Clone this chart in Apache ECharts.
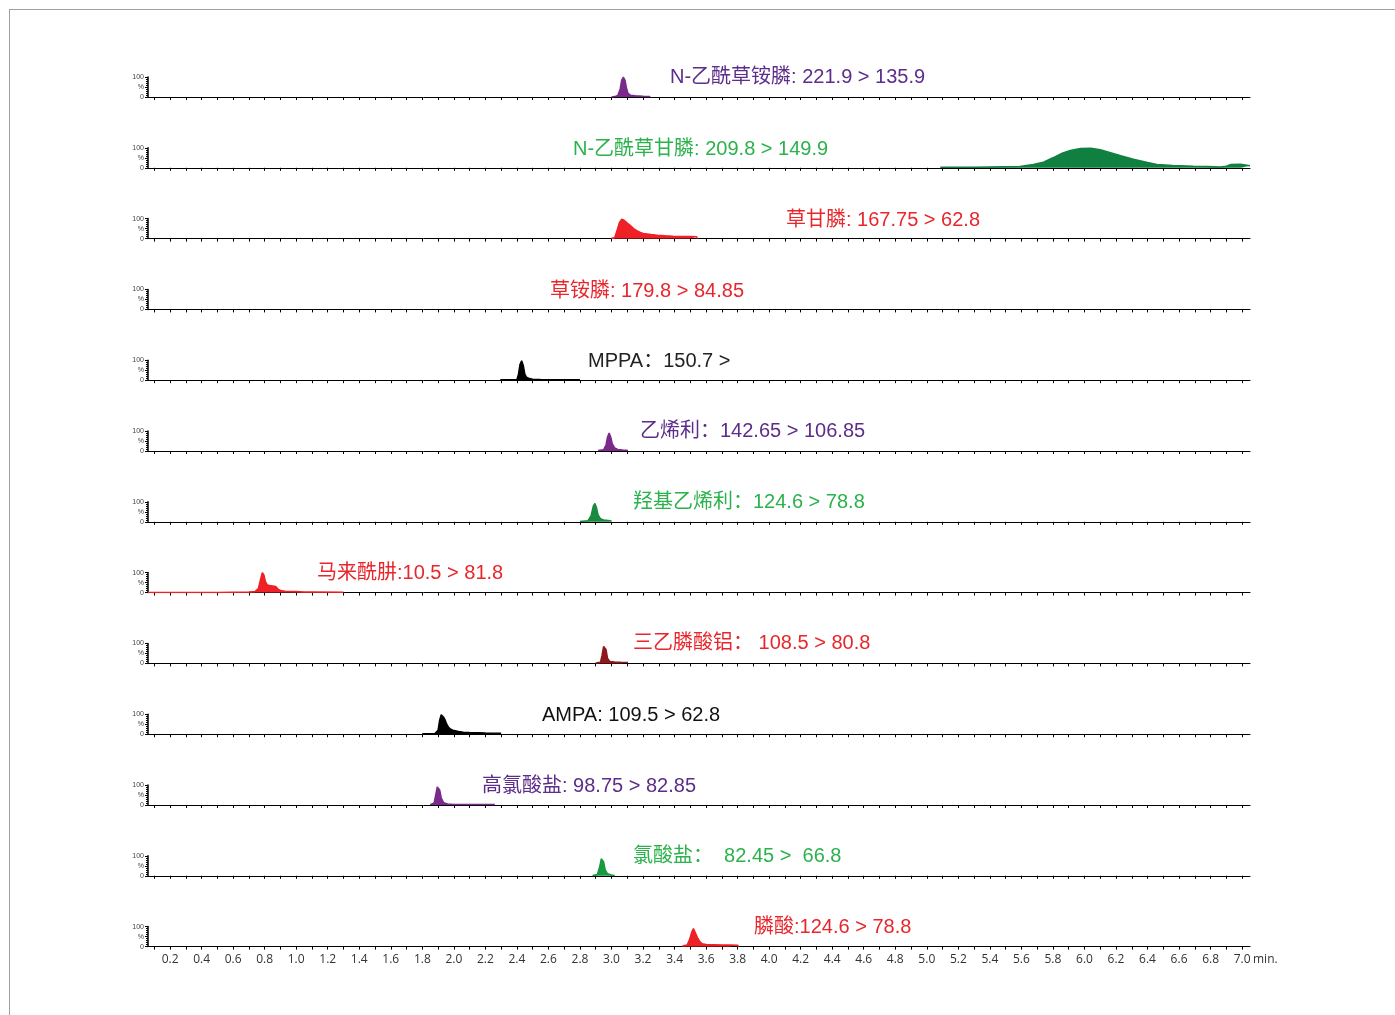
<!DOCTYPE html>
<html>
<head>
<meta charset="utf-8">
<script src="https://cdn.jsdelivr.net/npm/echarts@6/dist/echarts.min.js"></script>
<style>
  html, body { margin: 0; padding: 0; background: #fff; }
  #frame { position: absolute; left: 9px; top: 9px; width: 1386px; height: 1006px;
           border-top: 1px solid #a0a0a0; border-left: 1px solid #a0a0a0; }
  #main { position: absolute; left: 0; top: 0; width: 1395px; height: 1015px; }
</style>
</head>
<body>
<div id="frame"></div>
<div id="main"></div>
<script>
// 每个通道的标题
const titles = [
  'N-乙酰草铵膦: 221.9 > 135.9',
  'N-乙酰草甘膦: 209.8 > 149.9',
  '草甘膦: 167.75 > 62.8',
  '草铵膦: 179.8 > 84.85',
  'MPPA：150.7 >',
  '乙烯利：142.65 > 106.85',
  '羟基乙烯利：124.6 > 78.8',
  '马来酰肼:10.5 > 81.8',
  '三乙膦酸铝： 108.5 > 80.8',
  'AMPA: 109.5 > 62.8',
  '高氯酸盐: 98.75 > 82.85',
  '氯酸盐：  82.45 >  66.8',
  '膦酸:124.6 > 78.8'
];

// x 轴刻度标签 (min)
const xLabels = [0.2, 0.4, 0.6, 0.8, 1.0, 1.2, 1.4, 1.6, 1.8, 2.0, 2.2, 2.4, 2.6, 2.8, 3.0, 3.2, 3.4,
  3.6, 3.8, 4.0, 4.2, 4.4, 4.6, 4.8, 5.0, 5.2, 5.4, 5.6, 5.8, 6.0, 6.2, 6.4, 6.6, 6.8, 7.0];

// 色谱峰数据 [时间 min, 相对强度 %]
const trace1 = [[3.00, 0], [3.02, 2], [3.04, 8], [3.055, 40], [3.065, 85], [3.075, 100], [3.085, 85],
  [3.095, 45], [3.105, 18], [3.12, 9], [3.15, 6], [3.20, 4], [3.24, 3], [3.245, 0]];
const trace2 = [[5.086, 3], [5.30, 3], [5.59, 7], [5.675, 17], [5.74, 28], [5.80, 50], [5.85, 70],
  [5.91, 87], [5.975, 97], [6.04, 98], [6.10, 90], [6.16, 77], [6.23, 60], [6.31, 43], [6.40, 27],
  [6.46, 17], [6.56, 12], [6.69, 8], [6.78, 7], [6.86, 4], [6.90, 8], [6.93, 17], [6.99, 18], [7.05, 10]];
const trace3 = [[3.00, 2], [3.02, 4], [3.035, 40], [3.05, 80], [3.065, 97], [3.08, 92], [3.10, 78],
  [3.12, 65], [3.14, 50], [3.16, 40], [3.18, 32], [3.20, 26], [3.25, 20], [3.29, 17], [3.34, 14],
  [3.39, 12], [3.45, 11], [3.50, 10], [3.54, 9], [3.545, 0]];
const trace4 = [];
const trace5 = [[2.295, 2], [2.40, 3], [2.41, 30], [2.42, 80], [2.43, 97], [2.44, 75], [2.45, 30],
  [2.46, 15], [2.48, 8], [2.50, 5], [2.55, 3], [2.80, 2]];
const trace6 = [[2.915, 2], [2.95, 6], [2.965, 30], [2.975, 70], [2.985, 90], [2.995, 70], [3.005, 35],
  [3.02, 15], [3.04, 8], [3.07, 5], [3.105, 3]];
const trace7 = [[2.80, 2], [2.85, 5], [2.87, 30], [2.885, 80], [2.895, 92], [2.905, 70], [2.915, 35],
  [2.93, 15], [2.95, 9], [2.98, 6], [3.00, 4]];
const trace8 = [[0.06, 1], [0.50, 1], [0.70, 3], [0.74, 6], [0.76, 20], [0.775, 70], [0.785, 100],
  [0.795, 88], [0.805, 55], [0.815, 40], [0.83, 35], [0.85, 33], [0.87, 30], [0.885, 18], [0.90, 10],
  [0.93, 7], [1.00, 5], [1.05, 3], [1.10, 3], [1.30, 2]];
const trace9 = [[2.90, 2], [2.93, 6], [2.94, 40], [2.95, 85], [2.955, 92], [2.965, 70], [2.975, 25],
  [2.99, 10], [3.02, 7], [3.06, 6], [3.105, 5]];
const trace10 = [[1.80, 2], [1.88, 3], [1.90, 20], [1.91, 70], [1.92, 97], [1.935, 85], [1.945, 70],
  [1.955, 50], [1.965, 36], [1.98, 25], [2.00, 18], [2.03, 13], [2.06, 10], [2.10, 8], [2.15, 7],
  [2.20, 6], [2.30, 5]];
const trace11 = [[1.85, 2], [1.875, 10], [1.885, 50], [1.895, 90], [1.90, 95], [1.91, 75], [1.92, 35],
  [1.935, 12], [1.96, 5], [2.00, 3], [2.26, 2]];
const trace12 = [[2.88, 2], [2.91, 6], [2.925, 45], [2.935, 85], [2.94, 93], [2.95, 70], [2.96, 30],
  [2.975, 10], [3.00, 4], [3.02, 2]];
const trace13 = [[3.45, 3], [3.48, 8], [3.495, 35], [3.51, 75], [3.52, 90], [3.53, 80], [3.545, 45],
  [3.56, 25], [3.575, 14], [3.60, 10], [3.65, 9], [3.70, 8], [3.75, 8], [3.80, 7], [3.805, 0]];

const traces = [trace1, trace2, trace3, trace4, trace5, trace6, trace7, trace8, trace9, trace10,
  trace11, trace12, trace13];

// 样式
const titleColors = ['#5c2d8a', '#2bb24c', '#e8262b', '#e8262b', '#222222', '#5c2d8a', '#2bb24c',
  '#e8262b', '#e8262b', '#111111', '#5c2d8a', '#2bb24c', '#e8262b'];
const peakColors = ['#7b2a8c', '#108040', '#ee2226', '#ee2226', '#000000', '#7b2a8c', '#1a8a3e',
  '#ee2226', '#8b1a1e', '#000000', '#7b2a8c', '#1a9a40', '#ee2226'];
const titleX = [670, 573, 786, 550, 588, 640, 633, 317, 633, 542, 482, 633, 754];
const titleY = [77, 149, 220, 291, 361, 431, 502, 573, 643, 715, 786, 856, 927];

const baseTop = 97, step = 70.8, panelH = 20;
const gridLeft = 148, gridWidth = 1102;
const font = '"Liberation Sans", "Noto Sans CJK SC", sans-serif';

let tickVals = [];
for (let i = 1; i <= 70; i++) tickVals.push(i / 10);

let grids = [], xAxes = [], yAxes = [], series = [], graphics = [];
traces.forEach((tr, i) => {
  const last = i === traces.length - 1;
  grids.push({ left: gridLeft, width: gridWidth, top: baseTop + step * i - panelH, height: panelH });
  xAxes.push({
    type: 'value', gridIndex: i, min: 0.06, max: 7.05,
    splitLine: { show: false },
    axisLine: { show: true, onZero: false, lineStyle: { color: '#000', width: 1 } },
    axisTick: { show: true, customValues: tickVals, length: 3, lineStyle: { color: '#000', width: 1 } },
    axisLabel: {
      show: last, customValues: xLabels, formatter: v => v.toFixed(1),
      color: '#333', fontSize: 12, fontFamily: '"Open Sans", sans-serif', margin: 7
    }
  });
  yAxes.push({
    type: 'value', gridIndex: i, min: 0, max: 100, interval: 50,
    splitLine: { show: false },
    axisLine: { show: true, lineStyle: { color: '#000', width: 1.5 } },
    axisTick: { show: true, length: 3, lineStyle: { color: '#000' } },
    minorTick: { show: true, splitNumber: 5, length: 2, lineStyle: { color: '#000' } },
    axisLabel: {
      formatter: v => (v === 50 ? '%' : String(v)), color: '#444', fontSize: 7,
      fontFamily: 'Liberation Sans, sans-serif', margin: 4
    }
  });
  series.push({
    type: 'line', xAxisIndex: i, yAxisIndex: i, data: tr, symbol: 'none', silent: true,
    lineStyle: { color: peakColors[i], width: 1.5 },
    areaStyle: { color: peakColors[i], opacity: 1 }
  });
  graphics.push({
    type: 'text', x: titleX[i], y: titleY[i],
    style: { text: titles[i], fill: titleColors[i], font: '20px ' + font, verticalAlign: 'middle' }
  });
});

graphics.push({
  type: 'text', x: 1253, y: 960,
  style: { text: 'min.', fill: '#333', font: '12px "Open Sans", sans-serif', verticalAlign: 'middle' }
});

let myChart = echarts.init(document.getElementById('main'));
myChart.setOption({
  animation: false,
  grid: grids,
  xAxis: xAxes,
  yAxis: yAxes,
  series: series,
  graphic: graphics
});
</script>
</body>
</html>
